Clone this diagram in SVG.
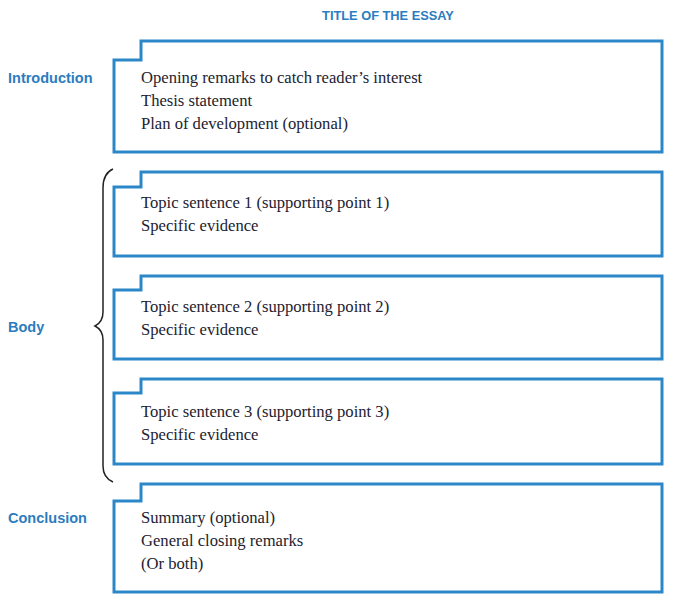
<svg xmlns="http://www.w3.org/2000/svg" width="680" height="601" viewBox="0 0 680 601">
<style>
.box{fill:none;stroke:#2b87c8;stroke-width:3;stroke-linejoin:miter}
.lbl{font-family:"Liberation Sans",Arial,sans-serif;font-weight:bold;font-size:14.5px;fill:#2b7cc0}
.ttl{font-family:"Liberation Sans",Arial,sans-serif;font-weight:bold;font-size:12.8px;fill:#2b7cc0}
.txt{font-family:"Liberation Serif","Times New Roman",serif;font-size:16.6px;fill:#222230}
.brace{fill:none;stroke:#222;stroke-width:1.5}
</style>
<rect width="680" height="601" fill="#fff"/>
<text class="ttl" x="388" y="20" text-anchor="middle">TITLE OF THE ESSAY</text>
<g id="labels">
<text class="lbl" x="8" y="83">Introduction</text>
<text class="lbl" x="8" y="332">Body</text>
<text class="lbl" x="8" y="523">Conclusion</text>
</g>
<g id="intro">
<path class="box" d="M114,60 H141 V41 H662 V152 H114 Z"/>
<text class="txt" x="141" y="83">Opening remarks to catch reader’s interest</text>
<text class="txt" x="141" y="106">Thesis statement</text>
<text class="txt" x="141" y="129">Plan of development (optional)</text>
</g>
<g id="body1">
<path class="box" d="M114,187 H141 V172 H662 V256 H114 Z"/>
<text class="txt" x="141" y="208">Topic sentence 1 (supporting point 1)</text>
<text class="txt" x="141" y="231">Specific evidence</text>
</g>
<g id="body2">
<path class="box" d="M114,290 H141 V276 H662 V359 H114 Z"/>
<text class="txt" x="141" y="312">Topic sentence 2 (supporting point 2)</text>
<text class="txt" x="141" y="335">Specific evidence</text>
</g>
<g id="body3">
<path class="box" d="M114,393 H141 V379 H662 V464 H114 Z"/>
<text class="txt" x="141" y="417">Topic sentence 3 (supporting point 3)</text>
<text class="txt" x="141" y="440">Specific evidence</text>
</g>
<g id="conclusion">
<path class="box" d="M114,501 H141 V484 H662 V592 H114 Z"/>
<text class="txt" x="141" y="523">Summary (optional)</text>
<text class="txt" x="141" y="546">General closing remarks</text>
<text class="txt" x="141" y="569">(Or both)</text>
</g>
<g id="connectors">
<path class="brace" d="M113,169 C106,172 103,178 103,188 V312 C103,320 99,324 95,326 C99,328 103,332 103,340 V466 C103,474 106,479 113,482"/>
</g>
</svg>
